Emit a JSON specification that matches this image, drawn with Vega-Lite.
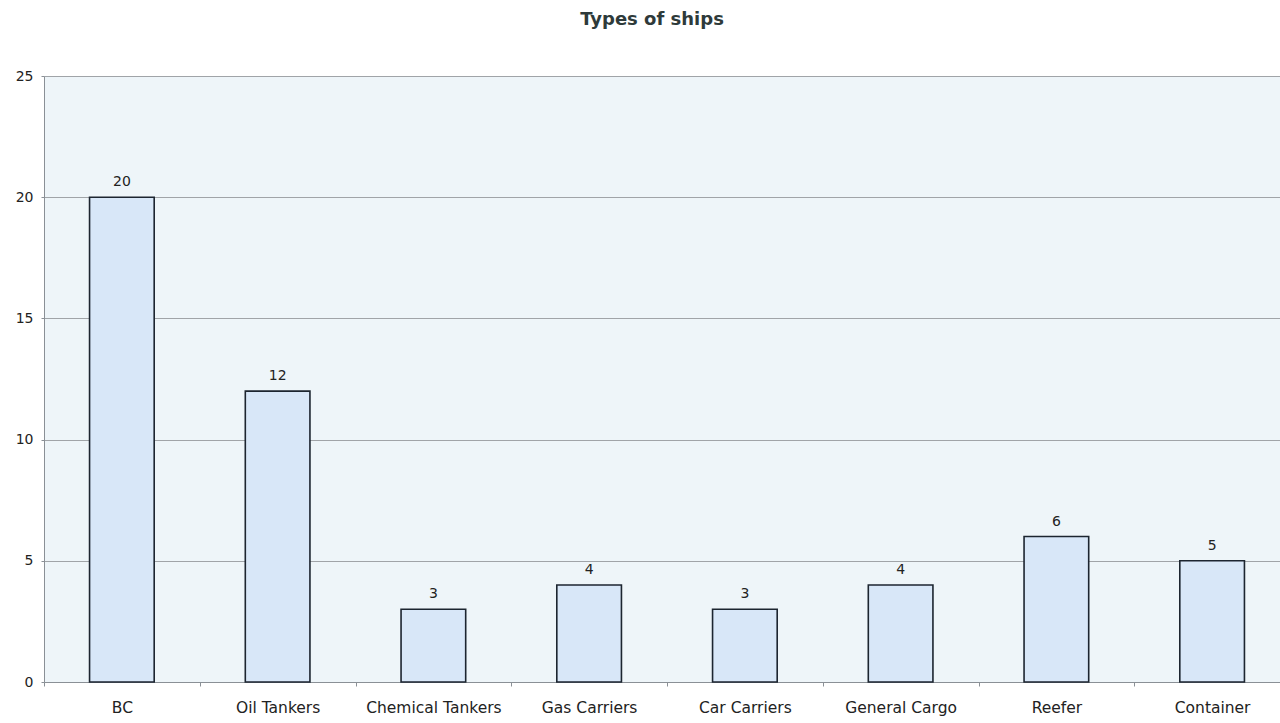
{
  "$schema": "https://vega.github.io/schema/vega-lite/v6.json",
  "autosize": {"type": "none"},
  "width": 1246,
  "height": 606,
  "padding": {"left": 44, "top": 76, "right": 0, "bottom": 41},
  "background": "#ffffff",
  "title": {"text": "Types of ships", "font": "DejaVu Sans", "fontSize": 18, "fontWeight": "bold", "color": "#2e3a3a", "anchor": "middle", "offset": 40, "dx": -15},
  "config": {
    "view": {"fill": "#eef5f9", "stroke": null},
    "axis": {"labelFont": "DejaVu Sans", "labelColor": "#222222", "domainColor": "#8a9096", "tickColor": "#8a9096", "gridColor": "#8c8f93", "gridWidth": 0.8}
  },
  "data": {"values": [
    {"type": "BC", "count": 20},
    {"type": "Oil Tankers", "count": 12},
    {"type": "Chemical Tankers", "count": 3},
    {"type": "Gas Carriers", "count": 4},
    {"type": "Car Carriers", "count": 3},
    {"type": "General Cargo", "count": 4},
    {"type": "Reefer", "count": 6},
    {"type": "Container", "count": 5}
  ]},
  "encoding": {
    "x": {"field": "type", "type": "nominal", "sort": null, "title": null,
      "scale": {"paddingInner": 0, "paddingOuter": 0},
      "axis": {"labelAngle": 0, "labelFontSize": 15.5, "tickBand": "extent", "tickSize": 4, "labelPadding": 14, "grid": false}},
    "y": {"field": "count", "type": "quantitative", "title": null,
      "scale": {"domain": [0, 25]},
      "axis": {"values": [0, 5, 10, 15, 20, 25], "labelFontSize": 14, "ticks": true, "tickSize": 3, "labelPadding": 8, "grid": true, "domain": true}}
  },
  "layer": [
    {"mark": {"type": "bar", "width": {"band": 0.415}, "fill": "#d8e7f8", "stroke": "#1c2530", "strokeWidth": 1.6}},
    {"mark": {"type": "text", "baseline": "alphabetic", "dy": -11, "font": "DejaVu Sans", "fontSize": 14, "color": "#222222"},
     "encoding": {"text": {"field": "count", "type": "quantitative"}}}
  ]
}
